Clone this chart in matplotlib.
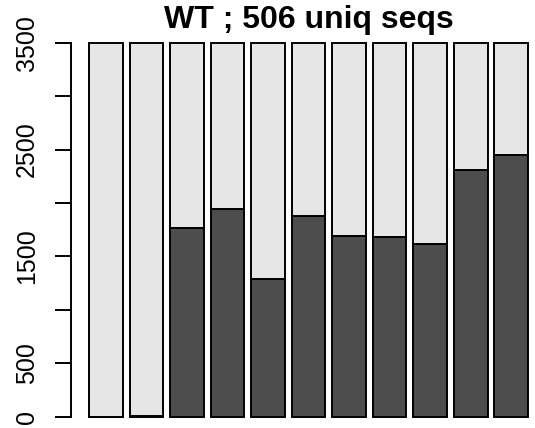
import matplotlib
matplotlib.use("Agg")
import matplotlib.pyplot as plt
import numpy as np

plt.rcParams['font.family'] = ['Liberation Sans', 'DejaVu Sans']

# stacked counts per column (dark = lower part, light = rest up to total)
totals = [3500, 3500, 3500, 3500, 3500, 3500, 3500, 3500, 3500, 3500, 3500]
dark = [0, 3, 1768, 1940, 1285, 1882, 1688, 1679, 1620, 2312, 2452]
light = [t - d for t, d in zip(totals, dark)]
yticks = [0, 500, 1000, 1500, 2000, 2500, 3000, 3500]
ylabels = ['0', '500', '', '1500', '', '2500', '', '3500']
title = 'WT ; 506 uniq seqs'

fig = plt.figure(figsize=(5.35, 4.28), dpi=100)
ax = fig.add_axes([0.1335, -0.0084, 0.8864, 0.9437])

n = len(dark)
left = 0.2 + 1.2 * np.arange(n)
ax.bar(left, dark, width=1.0, align='edge', color='#4D4D4D',
       edgecolor='black', linewidth=1.4)
ax.bar(left, light, width=1.0, bottom=dark, align='edge', color='#E6E6E6',
       edgecolor='black', linewidth=1.4)

ax.set_xlim(0.2 - 0.52, 13.2 + 0.52)
ax.set_ylim(-140, 3640)

for s in ['top', 'right', 'bottom']:
    ax.spines[s].set_visible(False)
ax.spines['left'].set_bounds(0, 3500)
ax.spines['left'].set_linewidth(1.4)
ax.set_xticks([])
ax.set_yticks(yticks)
ax.set_yticklabels(ylabels, rotation=90, va='center', fontsize=18)
ax.tick_params(axis='y', length=11.5, width=1.4, pad=12)

fig.text(0.5766, 1 - 28 / 428, title, ha='center', va='baseline',
         fontsize=23, fontweight='bold')

fig.savefig('out.png', dpi=100)
